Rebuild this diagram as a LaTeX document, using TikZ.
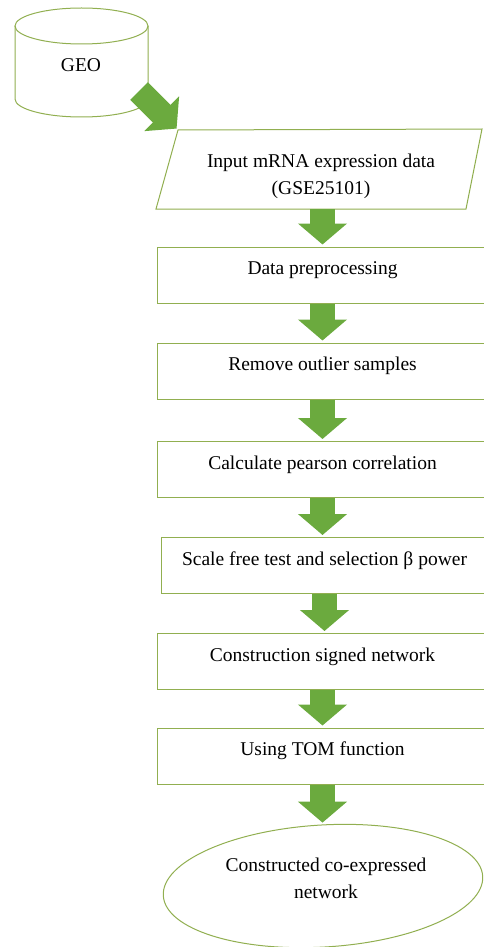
\documentclass[tikz,border=0pt]{standalone}
\usepackage{fontspec}
\setmainfont{Liberation Serif}
\usetikzlibrary{arrows.meta,shapes.geometric}
\definecolor{arrowgreen}{RGB}{107,170,62}
\definecolor{edgegreen}{RGB}{145,175,80}
\begin{document}
\begin{tikzpicture}[x=1pt,y=-1pt,
  font=\fontsize{19.5}{27}\selectfont,
  outline/.style={draw=edgegreen, line width=1pt},
  stepbox/.style={outline, fill=white, rectangle, inner sep=0pt,
    minimum width=331pt, minimum height=56pt,
    text height=27.5pt, text depth=28.5pt},
  fat/.style={draw=arrowgreen, line width=25pt,
    -{Triangle[width=48pt 0, length=21pt 0]}, shorten >=2pt}
]
\useasboundingbox (0,0) rectangle (484,947);
\clip (0,0) rectangle (484,947);

% GEO cylinder
\draw[outline, fill=white] (15,26) -- (15,99)
  arc[start angle=180, end angle=0, x radius=66.5, y radius=18] -- (148,26);
\draw[outline] (81.5,26) ellipse[x radius=66.5, y radius=18];
\node (geo) at (81,65) {GEO};
\coordinate (geoexit) at (139,91);

% input parallelogram
\coordinate (ptl) at (178,130);
\coordinate (ptr) at (482,129);
\coordinate (pbr) at (466,209);
\coordinate (pbl) at (156,209);
\draw[outline, fill=white] (ptl) -- (ptr) -- (pbr) -- (pbl) -- cycle;
\node[align=center] (input) at (321,176) {Input mRNA expression data\\(GSE25101)};

% process boxes
\node[stepbox] (dp)  at (322.5,275)   {Data preprocessing};
\node[stepbox] (ro)  at (322.5,371)   {Remove outlier samples};
\node[stepbox] (cp)  at (322.5,469.5) {Calculate pearson correlation};
\node[stepbox, minimum width=327pt] (sf) at (324.5,565.5) {Scale free test and selection β power};
\node[stepbox] (cs)  at (322.5,661.5) {Construction signed network};
\node[stepbox] (tom) at (322.5,756)   {Using TOM function};

% output ellipse
\node[ellipse, outline, fill=white, inner sep=0pt, minimum width=320pt,
  minimum height=122pt, rotate=3.5] (out) at (323,886) {};
\node[align=center] (outtext) at (326,878) {Constructed co-expressed\\network};

% connectors
\draw[fat] (geoexit) -- (ptl);
\draw[fat] (dp.north |- pbl) -- (dp.north);
\draw[fat] (dp.south) -- (dp.south |- ro.north);
\draw[fat] (ro.south) -- (ro.south |- cp.north);
\draw[fat] (cp.south) -- (cp.south |- sf.north);
\draw[fat] (sf.south) -- (sf.south |- cs.north);
\draw[fat] (cs.south) -- (cs.south |- tom.north);
\draw[fat] (tom.south) -- (tom.south |- out.north);
\end{tikzpicture}
\end{document}
